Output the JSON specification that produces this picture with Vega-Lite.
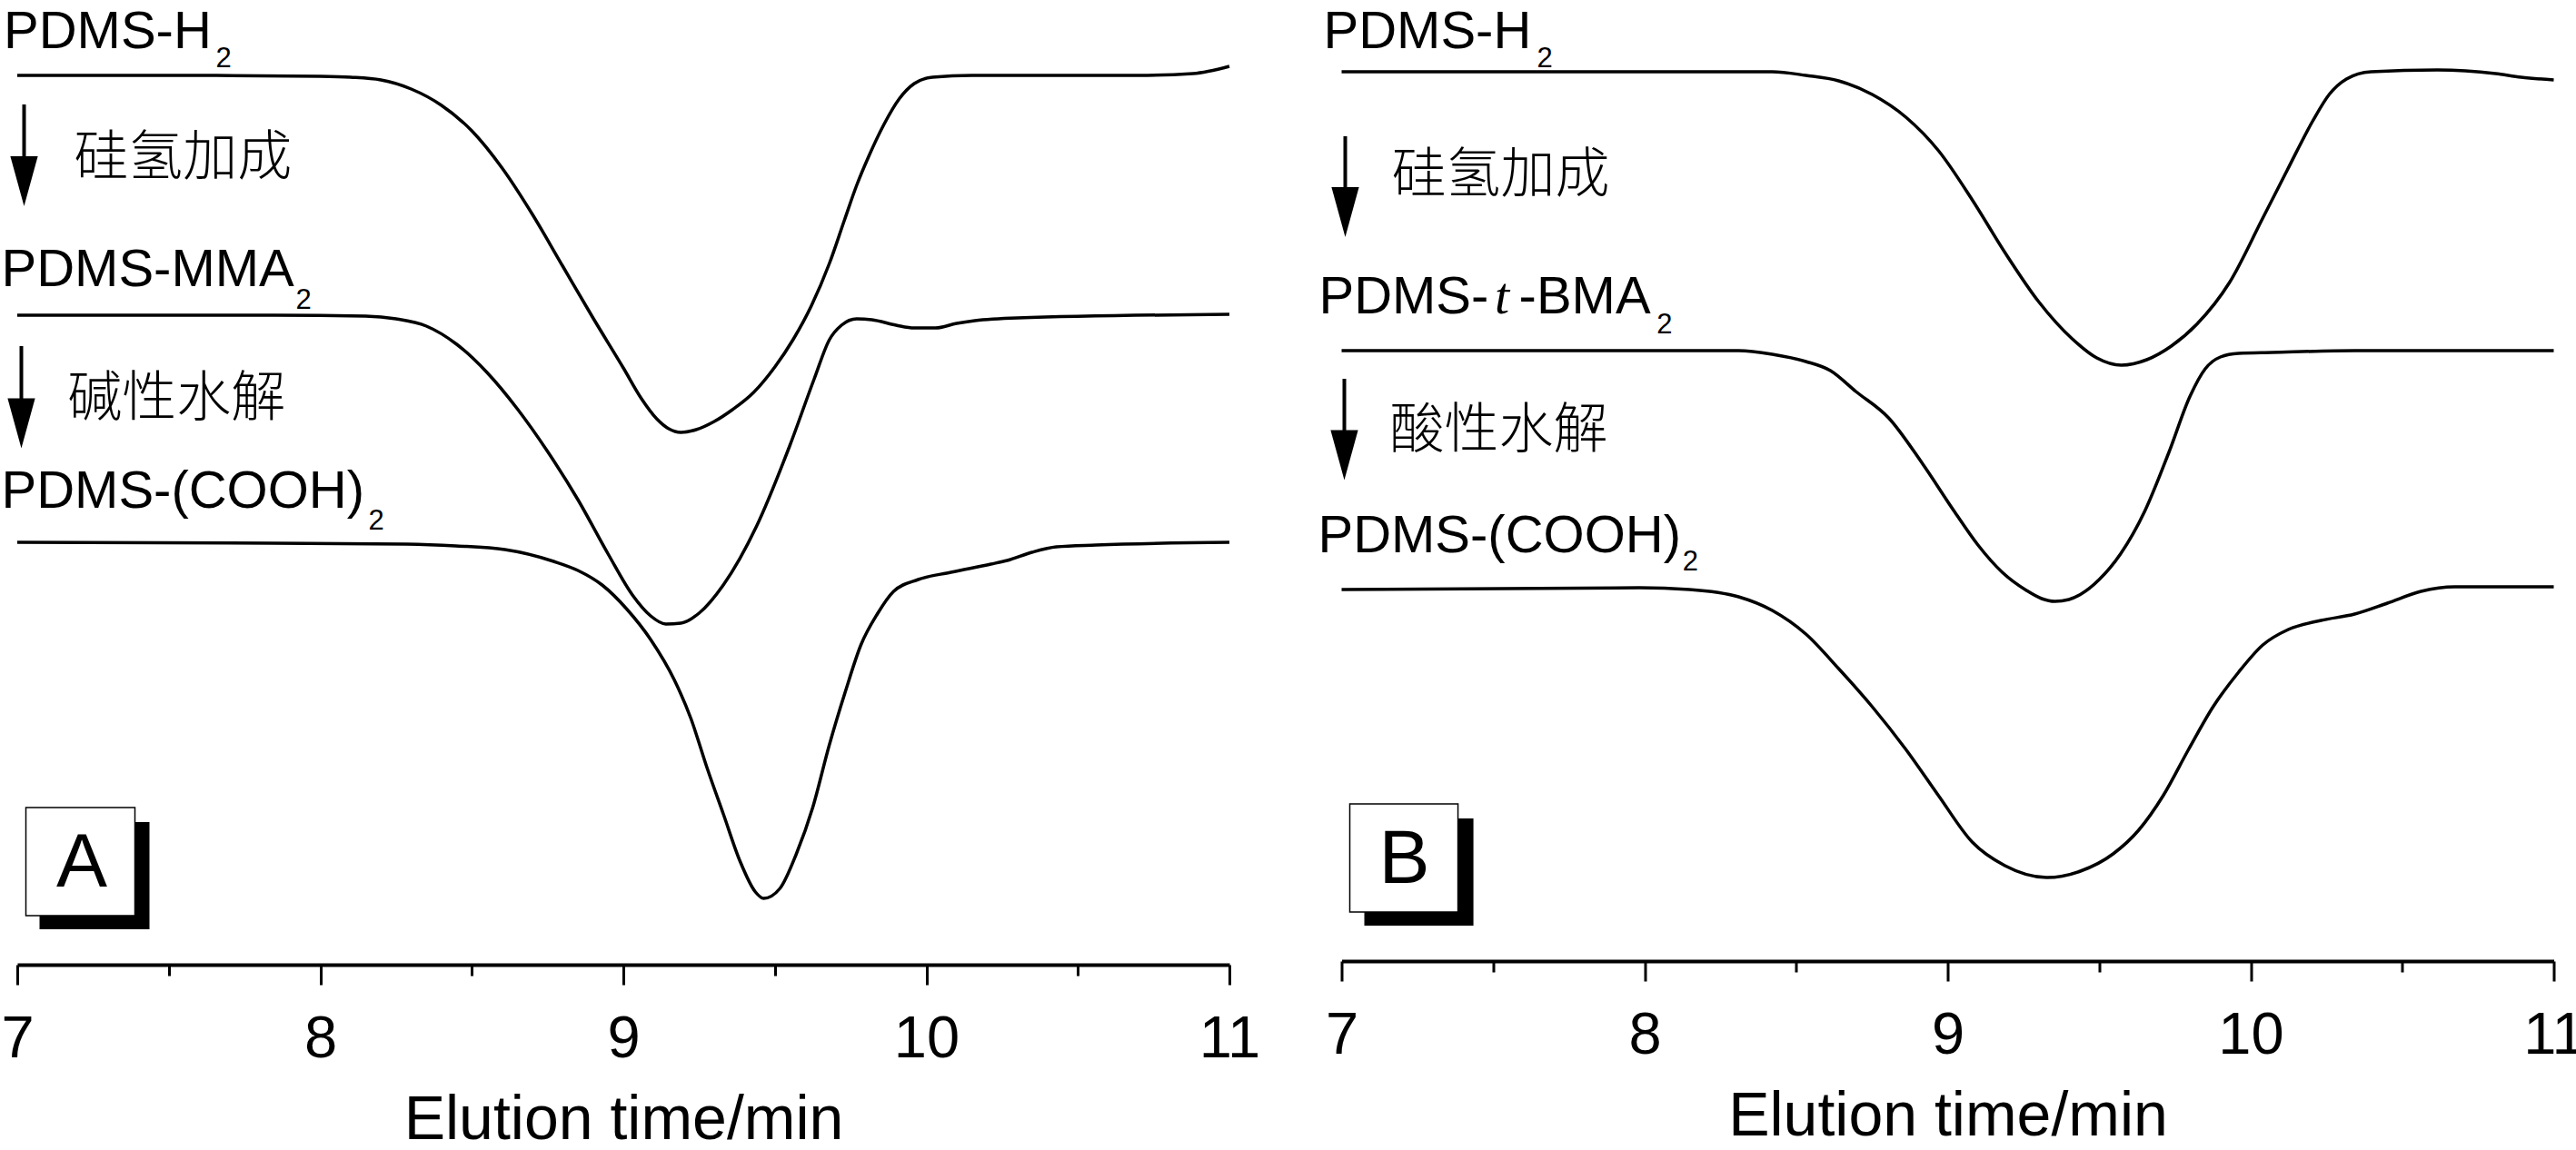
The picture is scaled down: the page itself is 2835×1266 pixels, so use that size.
{
  "$schema": "https://vega.github.io/schema/vega-lite/v6.json",
  "background": "white",
  "padding": 0,
  "spacing": 123.5,
  "bounds": "flush",
  "config": {
    "view": {"stroke": null},
    "axisX": {
      "domainColor": "black", "domainWidth": 4, "domainCap": "butt",
      "tickColor": "black", "tickWidth": 3,
      "labelFont": "Liberation Sans", "labelFontSize": 65, "labelColor": "black", "labelPadding": 28,
      "labelFlush": false, "labelOverlap": false,
      "titleFont": "Liberation Sans", "titleFontSize": 68, "titleFontWeight": "normal", "titleColor": "black",
      "titleY": 191, "titleBaseline": "alphabetic", "grid": false
    }
  },
  "datasets": {
    "curves": [
      {"panel":"A","series":"H2","t":7.000,"s":979},{"panel":"A","series":"H2","t":7.6,"s":979},{"panel":"A","series":"H2","t":8.0,"s":978},{"panel":"A","series":"H2","t":8.1,"s":977},{"panel":"A","series":"H2","t":8.2,"s":974},{"panel":"A","series":"H2","t":8.3,"s":964},{"panel":"A","series":"H2","t":8.4,"s":946},{"panel":"A","series":"H2","t":8.5,"s":918},{"panel":"A","series":"H2","t":8.6,"s":877},{"panel":"A","series":"H2","t":8.7,"s":826},{"panel":"A","series":"H2","t":8.8,"s":769},{"panel":"A","series":"H2","t":8.9,"s":712},{"panel":"A","series":"H2","t":9.0,"s":657},{"panel":"A","series":"H2","t":9.06,"s":623},{"panel":"A","series":"H2","t":9.11,"s":601},{"panel":"A","series":"H2","t":9.15,"s":590},{"panel":"A","series":"H2","t":9.19,"s":586},{"panel":"A","series":"H2","t":9.24,"s":589},{"panel":"A","series":"H2","t":9.30,"s":598},{"panel":"A","series":"H2","t":9.36,"s":611},{"panel":"A","series":"H2","t":9.43,"s":630},{"panel":"A","series":"H2","t":9.5,"s":658},{"panel":"A","series":"H2","t":9.56,"s":688},{"panel":"A","series":"H2","t":9.62,"s":725},{"panel":"A","series":"H2","t":9.68,"s":772},{"panel":"A","series":"H2","t":9.73,"s":820},{"panel":"A","series":"H2","t":9.77,"s":858},{"panel":"A","series":"H2","t":9.81,"s":890},{"panel":"A","series":"H2","t":9.86,"s":925},{"panel":"A","series":"H2","t":9.91,"s":953},{"panel":"A","series":"H2","t":9.96,"s":970},{"panel":"A","series":"H2","t":10.02,"s":977},{"panel":"A","series":"H2","t":10.15,"s":979},{"panel":"A","series":"H2","t":10.7,"s":979},{"panel":"A","series":"H2","t":10.88,"s":981},{"panel":"A","series":"H2","t":11.0,"s":989},
      {"panel":"A","series":"MMA","t":7.000,"s":715},{"panel":"A","series":"MMA","t":7.85,"s":715},{"panel":"A","series":"MMA","t":8.15,"s":714},{"panel":"A","series":"MMA","t":8.25,"s":711},{"panel":"A","series":"MMA","t":8.35,"s":703},{"panel":"A","series":"MMA","t":8.45,"s":683},{"panel":"A","series":"MMA","t":8.55,"s":652},{"panel":"A","series":"MMA","t":8.65,"s":612},{"panel":"A","series":"MMA","t":8.75,"s":565},{"panel":"A","series":"MMA","t":8.85,"s":512},{"panel":"A","series":"MMA","t":8.95,"s":452},{"panel":"A","series":"MMA","t":9.03,"s":407},{"panel":"A","series":"MMA","t":9.09,"s":384},{"panel":"A","series":"MMA","t":9.14,"s":375},{"panel":"A","series":"MMA","t":9.19,"s":376},{"panel":"A","series":"MMA","t":9.25,"s":387},{"panel":"A","series":"MMA","t":9.33,"s":418},{"panel":"A","series":"MMA","t":9.44,"s":483},{"panel":"A","series":"MMA","t":9.55,"s":572},{"panel":"A","series":"MMA","t":9.63,"s":645},{"panel":"A","series":"MMA","t":9.68,"s":688},{"panel":"A","series":"MMA","t":9.72,"s":704},{"panel":"A","series":"MMA","t":9.77,"s":711},{"panel":"A","series":"MMA","t":9.82,"s":710},{"panel":"A","series":"MMA","t":9.90,"s":704},{"panel":"A","series":"MMA","t":9.96,"s":701},{"panel":"A","series":"MMA","t":10.03,"s":701},{"panel":"A","series":"MMA","t":10.10,"s":706},{"panel":"A","series":"MMA","t":10.16,"s":709},{"panel":"A","series":"MMA","t":10.3,"s":712},{"panel":"A","series":"MMA","t":11.0,"s":716},
      {"panel":"A","series":"COOH","t":7.000,"s":465},{"panel":"A","series":"COOH","t":7.847,"s":464},{"panel":"A","series":"COOH","t":8.285,"s":463},{"panel":"A","series":"COOH","t":8.447,"s":461},{"panel":"A","series":"COOH","t":8.609,"s":457},{"panel":"A","series":"COOH","t":8.77,"s":444},{"panel":"A","series":"COOH","t":8.85,"s":434},{"panel":"A","series":"COOH","t":8.93,"s":418},{"panel":"A","series":"COOH","t":9.01,"s":392},{"panel":"A","series":"COOH","t":9.09,"s":358},{"panel":"A","series":"COOH","t":9.169,"s":313},{"panel":"A","series":"COOH","t":9.223,"s":271},{"panel":"A","series":"COOH","t":9.277,"s":216},{"panel":"A","series":"COOH","t":9.331,"s":165},{"panel":"A","series":"COOH","t":9.385,"s":114},{"panel":"A","series":"COOH","t":9.436,"s":80},{"panel":"A","series":"COOH","t":9.463,"s":73},{"panel":"A","series":"COOH","t":9.517,"s":84},{"panel":"A","series":"COOH","t":9.571,"s":122},{"panel":"A","series":"COOH","t":9.625,"s":173},{"panel":"A","series":"COOH","t":9.679,"s":241},{"panel":"A","series":"COOH","t":9.733,"s":301},{"panel":"A","series":"COOH","t":9.784,"s":352},{"panel":"A","series":"COOH","t":9.838,"s":386},{"panel":"A","series":"COOH","t":9.892,"s":411},{"panel":"A","series":"COOH","t":9.973,"s":424},{"panel":"A","series":"COOH","t":10.081,"s":432},{"panel":"A","series":"COOH","t":10.213,"s":441},{"panel":"A","series":"COOH","t":10.267,"s":445},{"panel":"A","series":"COOH","t":10.348,"s":454},{"panel":"A","series":"COOH","t":10.429,"s":460},{"panel":"A","series":"COOH","t":10.560,"s":462},{"panel":"A","series":"COOH","t":11.0,"s":465},
      {"panel":"B","series":"H2","t":7.000,"s":979},{"panel":"B","series":"H2","t":8.421,"s":979},{"panel":"B","series":"H2","t":8.532,"s":975},{"panel":"B","series":"H2","t":8.640,"s":969},{"panel":"B","series":"H2","t":8.751,"s":954},{"panel":"B","series":"H2","t":8.862,"s":929},{"panel":"B","series":"H2","t":8.970,"s":892},{"panel":"B","series":"H2","t":9.081,"s":838},{"panel":"B","series":"H2","t":9.189,"s":780},{"panel":"B","series":"H2","t":9.300,"s":726},{"panel":"B","series":"H2","t":9.411,"s":685},{"panel":"B","series":"H2","t":9.492,"s":664},{"panel":"B","series":"H2","t":9.573,"s":656},{"panel":"B","series":"H2","t":9.657,"s":662},{"panel":"B","series":"H2","t":9.738,"s":677},{"panel":"B","series":"H2","t":9.822,"s":701},{"panel":"B","series":"H2","t":9.930,"s":747},{"panel":"B","series":"H2","t":10.040,"s":818},{"panel":"B","series":"H2","t":10.121,"s":871},{"panel":"B","series":"H2","t":10.205,"s":925},{"panel":"B","series":"H2","t":10.259,"s":954},{"panel":"B","series":"H2","t":10.316,"s":971},{"panel":"B","series":"H2","t":10.397,"s":979},{"panel":"B","series":"H2","t":10.616,"s":981},{"panel":"B","series":"H2","t":10.808,"s":977},{"panel":"B","series":"H2","t":10.892,"s":973},{"panel":"B","series":"H2","t":11.0,"s":970},
      {"panel":"B","series":"tBMA","t":7.000,"s":672},{"panel":"B","series":"tBMA","t":8.310,"s":672},{"panel":"B","series":"tBMA","t":8.421,"s":668},{"panel":"B","series":"tBMA","t":8.532,"s":660},{"panel":"B","series":"tBMA","t":8.613,"s":650},{"panel":"B","series":"tBMA","t":8.697,"s":627},{"panel":"B","series":"tBMA","t":8.805,"s":598},{"panel":"B","series":"tBMA","t":8.916,"s":548},{"panel":"B","series":"tBMA","t":9.024,"s":494},{"panel":"B","series":"tBMA","t":9.10,"s":458},{"panel":"B","series":"tBMA","t":9.18,"s":428},{"panel":"B","series":"tBMA","t":9.26,"s":408},{"panel":"B","series":"tBMA","t":9.31,"s":399},{"panel":"B","series":"tBMA","t":9.354,"s":396},{"panel":"B","series":"tBMA","t":9.40,"s":398},{"panel":"B","series":"tBMA","t":9.44,"s":404},{"panel":"B","series":"tBMA","t":9.50,"s":420},{"panel":"B","series":"tBMA","t":9.57,"s":448},{"panel":"B","series":"tBMA","t":9.65,"s":495},{"panel":"B","series":"tBMA","t":9.73,"s":560},{"panel":"B","series":"tBMA","t":9.80,"s":622},{"panel":"B","series":"tBMA","t":9.85,"s":652},{"panel":"B","series":"tBMA","t":9.90,"s":665},{"panel":"B","series":"tBMA","t":9.96,"s":669},{"panel":"B","series":"tBMA","t":10.07,"s":670},{"panel":"B","series":"tBMA","t":10.343,"s":672},{"panel":"B","series":"tBMA","t":11.0,"s":672},
      {"panel":"B","series":"COOH","t":7.000,"s":409},{"panel":"B","series":"COOH","t":7.983,"s":411},{"panel":"B","series":"COOH","t":8.148,"s":409},{"panel":"B","series":"COOH","t":8.310,"s":401},{"panel":"B","series":"COOH","t":8.421,"s":386},{"panel":"B","series":"COOH","t":8.532,"s":360},{"panel":"B","series":"COOH","t":8.640,"s":322},{"panel":"B","series":"COOH","t":8.751,"s":280},{"panel":"B","series":"COOH","t":8.862,"s":233},{"panel":"B","series":"COOH","t":8.970,"s":182},{"panel":"B","series":"COOH","t":9.081,"s":131},{"panel":"B","series":"COOH","t":9.189,"s":105},{"panel":"B","series":"COOH","t":9.327,"s":92},{"panel":"B","series":"COOH","t":9.438,"s":99},{"panel":"B","series":"COOH","t":9.546,"s":118},{"panel":"B","series":"COOH","t":9.630,"s":144},{"panel":"B","series":"COOH","t":9.711,"s":182},{"panel":"B","series":"COOH","t":9.795,"s":233},{"panel":"B","series":"COOH","t":9.876,"s":280},{"panel":"B","series":"COOH","t":9.960,"s":318},{"panel":"B","series":"COOH","t":10.040,"s":348},{"panel":"B","series":"COOH","t":10.124,"s":365},{"panel":"B","series":"COOH","t":10.232,"s":375},{"panel":"B","series":"COOH","t":10.343,"s":382},{"panel":"B","series":"COOH","t":10.451,"s":394},{"panel":"B","series":"COOH","t":10.562,"s":407},{"panel":"B","series":"COOH","t":10.673,"s":412},{"panel":"B","series":"COOH","t":11.0,"s":412}
    ],
    "labels": [
      {"panel":"A","kind":"main","t":6.955,"s":1009,"text":"PDMS-H"},
      {"panel":"A","kind":"sub","t":7.655,"s":988,"text":"2"},
      {"panel":"A","kind":"main","t":6.9475,"s":747,"text":"PDMS-MMA"},
      {"panel":"A","kind":"sub","t":7.919,"s":722,"text":"2"},
      {"panel":"A","kind":"main","t":6.9475,"s":503,"text":"PDMS-(COOH)"},
      {"panel":"A","kind":"sub","t":8.159,"s":479,"text":"2"},
      {"panel":"A","kind":"cjk","t":7.187,"s":887,"text":"硅氢加成"},
      {"panel":"A","kind":"cjk","t":7.166,"s":622,"text":"碱性水解"},
      {"panel":"A","kind":"letter","t":7.2129,"s":86,"text":"A"},
      {"panel":"B","kind":"main","t":6.940,"s":1005,"text":"PDMS-H"},
      {"panel":"B","kind":"sub","t":7.645,"s":984,"text":"2"},
      {"panel":"B","kind":"main","t":6.925,"s":713,"text":"PDMS-"},
      {"panel":"B","kind":"ital","t":7.505,"s":713,"text":"t"},
      {"panel":"B","kind":"main","t":7.585,"s":713,"text":"-BMA"},
      {"panel":"B","kind":"sub","t":8.040,"s":691,"text":"2"},
      {"panel":"B","kind":"main","t":6.922,"s":450,"text":"PDMS-(COOH)"},
      {"panel":"B","kind":"sub","t":8.125,"s":430,"text":"2"},
      {"panel":"B","kind":"cjk","t":7.165,"s":864,"text":"硅氢加成"},
      {"panel":"B","kind":"cjk","t":7.159,"s":583,"text":"酸性水解"},
      {"panel":"B","kind":"letter","t":7.207,"s":86,"text":"B"}
    ],
    "arrows": [
      {"panel":"A","t":7.0225,"s":947,"s2":880,"head":862.5},
      {"panel":"A","t":7.0135,"s":681,"s2":615,"head":596},
      {"panel":"B","t":7.012,"s":908,"s2":840,"head":824.5},
      {"panel":"B","t":7.009,"s":641,"s2":575,"head":557}
    ],
    "boxes": [
      {"panel":"A","kind":"shadow","t":7.0735,"t2":7.4363,"s":157,"s2":39},
      {"panel":"A","kind":"box","t":7.0285,"t2":7.3883,"s":173,"s2":54},
      {"panel":"B","kind":"shadow","t":7.075,"t2":7.435,"s":157,"s2":39},
      {"panel":"B","kind":"box","t":7.027,"t2":7.384,"s":173,"s2":54}
    ]
  },
  "hconcat": [
    {
      "width": 1334, "height": 1062,
      "encoding": {
        "x": {"field": "t", "type": "quantitative", "scale": {"domain": [7, 11], "nice": false, "zero": false},
              "axis": {"title": "Elution time/min", "values": [7, 7.5, 8, 8.5, 9, 9.5, 10, 10.5, 11],
                       "labelExpr": "datum.value % 1 === 0 ? format(datum.value, 'd') : ''",
                       "tickSize": {"condition": {"test": "datum.value % 1 !== 0", "value": 12}, "value": 22}}},
        "y": {"field": "s", "type": "quantitative", "scale": {"domain": [0, 1062], "nice": false, "zero": false}, "axis": null}
      },
      "layer": [
        {"data": {"name": "boxes"}, "transform": [{"filter": "datum.panel === 'A' && datum.kind === 'shadow'"}],
         "mark": {"type": "rect", "fill": "black"},
         "encoding": {"x2": {"field": "t2"}, "y2": {"field": "s2"}}},
        {"data": {"name": "boxes"}, "transform": [{"filter": "datum.panel === 'A' && datum.kind === 'box'"}],
         "mark": {"type": "rect", "fill": "white", "stroke": "black", "strokeWidth": 1.5},
         "encoding": {"x2": {"field": "t2"}, "y2": {"field": "s2"}}},
        {"data": {"name": "curves"}, "transform": [{"filter": "datum.panel === 'A'"}],
         "mark": {"type": "line", "color": "black", "strokeWidth": 3.5, "interpolate": "monotone"},
         "encoding": {"detail": {"field": "series"}}},
        {"data": {"name": "arrows"}, "transform": [{"filter": "datum.panel === 'A'"}],
         "mark": {"type": "rule", "color": "black", "strokeWidth": 4},
         "encoding": {"y2": {"field": "s2"}}},
        {"data": {"name": "arrows"}, "transform": [{"filter": "datum.panel === 'A'"}],
         "mark": {"type": "point", "shape": "M-0.55,-1L0.55,-1L0,1Z", "filled": true, "color": "black", "size": 3025, "opacity": 1},
         "encoding": {"y": {"field": "head", "type": "quantitative"}}},
        {"data": {"name": "labels"}, "transform": [{"filter": "datum.panel === 'A' && datum.kind === 'main'"}],
         "mark": {"type": "text", "font": "Liberation Sans", "fontSize": 58, "align": "left", "baseline": "alphabetic", "color": "black"},
         "encoding": {"text": {"field": "text"}}},
        {"data": {"name": "labels"}, "transform": [{"filter": "datum.panel === 'A' && datum.kind === 'sub'"}],
         "mark": {"type": "text", "font": "Liberation Sans", "fontSize": 31, "align": "left", "baseline": "alphabetic", "color": "black"},
         "encoding": {"text": {"field": "text"}}},
        {"data": {"name": "labels"}, "transform": [{"filter": "datum.panel === 'A' && datum.kind === 'cjk'"}],
         "mark": {"type": "text", "font": "Noto Sans CJK SC", "fontWeight": 300, "fontSize": 60, "align": "left", "baseline": "middle", "color": "black"},
         "encoding": {"text": {"field": "text"}}},
        {"data": {"name": "labels"}, "transform": [{"filter": "datum.panel === 'A' && datum.kind === 'letter'"}],
         "mark": {"type": "text", "font": "Liberation Sans", "fontSize": 84, "align": "center", "baseline": "alphabetic", "color": "black"},
         "encoding": {"text": {"field": "text"}}}
      ]
    },
    {
      "width": 1334, "height": 1058,
      "encoding": {
        "x": {"field": "t", "type": "quantitative", "scale": {"domain": [7, 11], "nice": false, "zero": false},
              "axis": {"title": "Elution time/min", "values": [7, 7.5, 8, 8.5, 9, 9.5, 10, 10.5, 11],
                       "labelExpr": "datum.value % 1 === 0 ? format(datum.value, 'd') : ''",
                       "tickSize": {"condition": {"test": "datum.value % 1 !== 0", "value": 12}, "value": 22}}},
        "y": {"field": "s", "type": "quantitative", "scale": {"domain": [0, 1058], "nice": false, "zero": false}, "axis": null}
      },
      "layer": [
        {"data": {"name": "boxes"}, "transform": [{"filter": "datum.panel === 'B' && datum.kind === 'shadow'"}],
         "mark": {"type": "rect", "fill": "black"},
         "encoding": {"x2": {"field": "t2"}, "y2": {"field": "s2"}}},
        {"data": {"name": "boxes"}, "transform": [{"filter": "datum.panel === 'B' && datum.kind === 'box'"}],
         "mark": {"type": "rect", "fill": "white", "stroke": "black", "strokeWidth": 1.5},
         "encoding": {"x2": {"field": "t2"}, "y2": {"field": "s2"}}},
        {"data": {"name": "curves"}, "transform": [{"filter": "datum.panel === 'B'"}],
         "mark": {"type": "line", "color": "black", "strokeWidth": 3.5, "interpolate": "monotone"},
         "encoding": {"detail": {"field": "series"}}},
        {"data": {"name": "arrows"}, "transform": [{"filter": "datum.panel === 'B'"}],
         "mark": {"type": "rule", "color": "black", "strokeWidth": 4},
         "encoding": {"y2": {"field": "s2"}}},
        {"data": {"name": "arrows"}, "transform": [{"filter": "datum.panel === 'B'"}],
         "mark": {"type": "point", "shape": "M-0.55,-1L0.55,-1L0,1Z", "filled": true, "color": "black", "size": 3025, "opacity": 1},
         "encoding": {"y": {"field": "head", "type": "quantitative"}}},
        {"data": {"name": "labels"}, "transform": [{"filter": "datum.panel === 'B' && datum.kind === 'main'"}],
         "mark": {"type": "text", "font": "Liberation Sans", "fontSize": 58, "align": "left", "baseline": "alphabetic", "color": "black"},
         "encoding": {"text": {"field": "text"}}},
        {"data": {"name": "labels"}, "transform": [{"filter": "datum.panel === 'B' && datum.kind === 'ital'"}],
         "mark": {"type": "text", "font": "Liberation Serif", "fontStyle": "italic", "fontSize": 58, "align": "left", "baseline": "alphabetic", "color": "black"},
         "encoding": {"text": {"field": "text"}}},
        {"data": {"name": "labels"}, "transform": [{"filter": "datum.panel === 'B' && datum.kind === 'sub'"}],
         "mark": {"type": "text", "font": "Liberation Sans", "fontSize": 31, "align": "left", "baseline": "alphabetic", "color": "black"},
         "encoding": {"text": {"field": "text"}}},
        {"data": {"name": "labels"}, "transform": [{"filter": "datum.panel === 'B' && datum.kind === 'cjk'"}],
         "mark": {"type": "text", "font": "Noto Sans CJK SC", "fontWeight": 300, "fontSize": 60, "align": "left", "baseline": "middle", "color": "black"},
         "encoding": {"text": {"field": "text"}}},
        {"data": {"name": "labels"}, "transform": [{"filter": "datum.panel === 'B' && datum.kind === 'letter'"}],
         "mark": {"type": "text", "font": "Liberation Sans", "fontSize": 84, "align": "center", "baseline": "alphabetic", "color": "black"},
         "encoding": {"text": {"field": "text"}}}
      ]
    }
  ]
}
